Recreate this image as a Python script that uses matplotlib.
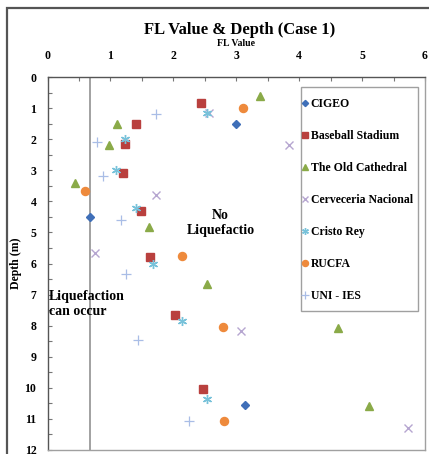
import matplotlib
matplotlib.use("Agg")
import matplotlib.pyplot as plt
from matplotlib.patches import Rectangle

plt.rcParams['font.family'] = ['Liberation Serif', 'DejaVu Serif']
plt.rcParams['font.weight'] = 'bold'

series_names = ["CIGEO", "Baseball Stadium", "The Old Cathedral", "Cerveceria Nacional",
                "Cristo Rey", "RUCFA", "UNI - IES"]

cigeo_fl = [3.0, 0.68, 3.14]
cigeo_d = [1.5, 4.5, 10.55]

baseball_fl = [2.44, 1.41, 1.23, 1.2, 1.49, 1.63, 2.03, 2.47]
baseball_d = [0.85, 1.5, 2.16, 3.1, 4.3, 5.78, 7.65, 10.05]

cathedral_fl = [3.37, 1.1, 0.98, 0.43, 1.62, 2.54, 4.62, 5.11]
cathedral_d = [0.6, 1.5, 2.2, 3.42, 4.83, 6.65, 8.06, 10.58]

cerveceria_fl = [2.57, 3.84, 1.73, 0.76, 3.08, 5.73]
cerveceria_d = [1.15, 2.19, 3.81, 5.65, 8.16, 11.3]

cristo_fl = [2.54, 1.23, 1.09, 1.41, 1.68, 2.13, 2.54]
cristo_d = [1.16, 2.0, 3.0, 4.22, 6.03, 7.85, 10.36]

rucfa_fl = [3.11, 0.6, 2.13, 2.79, 2.81]
rucfa_d = [1.0, 3.67, 5.75, 8.05, 11.06]

uni_fl = [1.73, 0.78, 0.89, 1.17, 1.25, 1.44, 2.25]
uni_d = [1.2, 2.1, 3.2, 4.6, 6.35, 8.45, 11.06]

threshold_fl = 0.67

W, H = 429, 454
AX_L, AX_R, AX_T, AX_B = 47.5, 425.0, 77.0, 450.0

fig = plt.figure(figsize=(W / 100, H / 100), dpi=100)
ax = fig.add_axes([AX_L / W, 1 - AX_B / H, (AX_R - AX_L) / W, (AX_B - AX_T) / H])


def ax_x(px):
    return (px - AX_L) / (AX_R - AX_L)


def ax_y(py):
    return 1 - (py - AX_T) / (AX_B - AX_T)


# outer chart frame
fig.patches.append(Rectangle((7 / W, -0.1), 1.2, 1 - 8 / H + 0.1, transform=fig.transFigure,
                             fill=False, edgecolor='#555555', linewidth=1.6, zorder=0))

ax.axvline(threshold_fl, color='#9a9a9a', linewidth=1.3, zorder=1)

ax.plot(cigeo_fl, cigeo_d, linestyle='none', marker='D', markersize=4.2, color='#3f6fb8', label=series_names[0], zorder=3)
ax.plot(baseball_fl, baseball_d, linestyle='none', marker='s', markersize=5.5, color='#b9403e', label=series_names[1], zorder=3)
ax.plot(cathedral_fl, cathedral_d, linestyle='none', marker='^', markersize=5.8, color='#8aaa48', label=series_names[2], zorder=3)
ax.plot(cerveceria_fl, cerveceria_d, linestyle='none', marker='x', markersize=5.5, markeredgewidth=1.0, color='#b6a6d0', label=series_names[3], zorder=3)
ax.plot(cristo_fl, cristo_d, linestyle='none', marker=(6, 2, 0), markersize=6.5, markeredgewidth=1.0, color='#78c2da', label=series_names[4], zorder=3)
ax.plot(rucfa_fl, rucfa_d, linestyle='none', marker='o', markersize=5.8, color='#ee8a3c', label=series_names[5], zorder=3)
ax.plot(uni_fl, uni_d, linestyle='none', marker='+', markersize=7, markeredgewidth=0.9, color='#a9bde6', label=series_names[6], zorder=3)

ax.set_xlim(0, 6)
ax.set_ylim(12, 0)
ax.xaxis.set_ticks_position('top')
ax.xaxis.set_label_position('top')
ax.set_xticks(range(0, 7))
ax.set_yticks(range(0, 13))
ax.set_xticks([i + 0.5 for i in range(6)], minor=True)
ax.set_yticks([i + 0.5 for i in range(12)], minor=True)
ax.tick_params(axis='both', which='both', direction='in', length=3, width=0.8, color='#777777')
ax.tick_params(axis='x', which='major', pad=11, labelsize=8.5)
ax.tick_params(axis='y', which='major', pad=8, labelsize=8.5)
for lab in ax.get_xticklabels() + ax.get_yticklabels():
    lab.set_fontweight('bold')

for side in ['right', 'bottom']:
    ax.spines[side].set_color('#a0a0a0')
for side in ['left', 'top']:
    ax.spines[side].set_color('#555555')
for s in ax.spines.values():
    s.set_linewidth(1.0)

ax.set_xlabel('FL Value', fontsize=7, fontweight='bold', labelpad=3)
ax.set_ylabel('Depth (m)', fontsize=8.5, fontweight='bold', labelpad=2)
fig.text(240 / W, 1 - 30 / H, 'FL Value & Depth (Case 1)', ha='center', va='center',
         fontsize=12, fontweight='bold')

ax.text(2.75, 4.7, 'No\nLiquefactio', ha='center', va='center', fontsize=10,
        fontweight='bold', linespacing=1.25)
ax.text(0.02, 7.3, 'Liquefaction\ncan occur', ha='left', va='center', fontsize=10,
        fontweight='bold', linespacing=1.25)

# legend frame drawn separately
ax.add_patch(Rectangle((ax_x(301), ax_y(311)), ax_x(418) - ax_x(301), ax_y(87) - ax_y(311),
                       transform=ax.transAxes, facecolor='white', edgecolor='#a0a0a0',
                       linewidth=1.0, zorder=4))
leg = ax.legend(loc='upper left', bbox_to_anchor=(ax_x(302), ax_y(98)),
                frameon=False, fontsize=8.5,
                handlelength=0.5, handletextpad=0.25, labelspacing=1.69, borderpad=0,
                borderaxespad=0, markerscale=0.75)
leg.set_zorder(5)
for t in leg.get_texts():
    t.set_fontweight('bold')

fig.savefig('out.png', dpi=100)
